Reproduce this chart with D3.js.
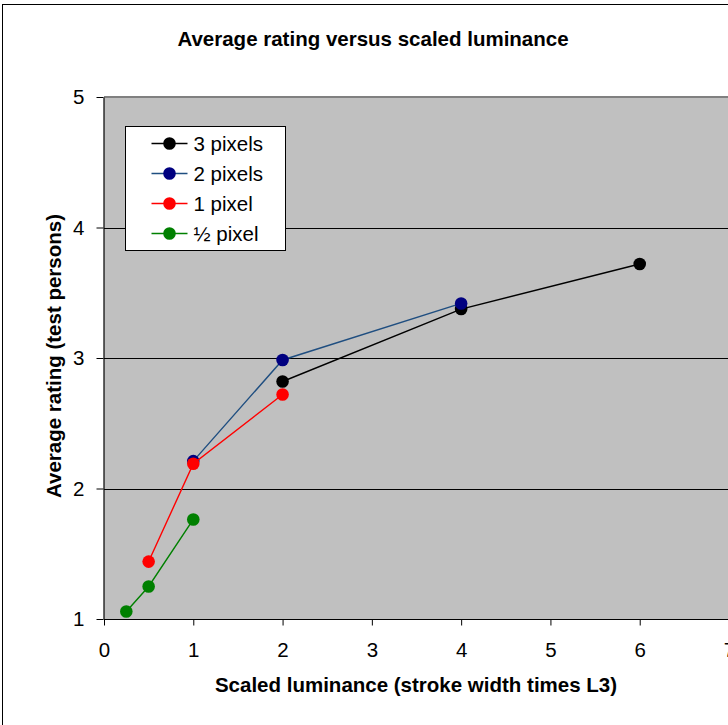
<!DOCTYPE html>
<html>
<head>
<meta charset="utf-8">
<script src="https://cdn.jsdelivr.net/npm/d3@7"></script>
<style>
  html, body { margin: 0; padding: 0; background: #fff; }
  svg { display: block; font-family: Arial, "Liberation Sans", sans-serif; }
</style>
</head>
<body>
<svg id="chart" width="728" height="725"></svg>
<script>
// Average rating per stroke width, against scaled luminance
const seriesNames = ["3 pixels", "2 pixels", "1 pixel", "½ pixel"];
const lineColors = ["#000000", "#1f4e80", "#ff0000", "#008000"];
const markerColors = ["#000000", "#000080", "#ff0000", "#008000"];

const luminance3px = [2, 4, 6];
const rating3px = [2.82, 3.375, 3.72];
const luminance2px = [1, 2, 4];
const rating2px = [2.21, 2.985, 3.418];
const luminance1px = [0.5, 1, 2];
const rating1px = [1.44, 2.19, 2.72];
const luminanceHalfPx = [0.25, 0.5, 1];
const ratingHalfPx = [1.058, 1.249, 1.763];

const xTicks = [0, 1, 2, 3, 4, 5, 6, 7];
const yTicks = [1, 2, 3, 4, 5];

const series = [
  { x: luminance3px, y: rating3px },
  { x: luminance2px, y: rating2px },
  { x: luminance1px, y: rating1px },
  { x: luminanceHalfPx, y: ratingHalfPx }
].map((s, i) => ({
  name: seriesNames[i],
  line: lineColors[i],
  marker: markerColors[i],
  points: s.x.map((v, j) => ({ x: v, y: s.y[j] }))
}));

const FONT = 20.5;
const svg = d3.select("#chart");

// Outer chart frame (runs off the right and bottom edges)
svg.append("rect")
  .attr("x", 2.5).attr("y", 4.5)
  .attr("width", 760).attr("height", 760)
  .attr("fill", "#fff").attr("stroke", "#000").attr("stroke-width", 1);

const plot = { left: 104, top: 97, right: 729, bottom: 619 };

const x = d3.scaleLinear().domain([0, 7]).range([plot.left, plot.right]);
const y = d3.scaleLinear().domain([1, 5]).range([plot.bottom, plot.top]);

// Plot area background
svg.append("rect")
  .attr("x", plot.left).attr("y", plot.top)
  .attr("width", 800).attr("height", plot.bottom - plot.top)
  .attr("fill", "#c0c0c0");

// Horizontal gridlines
svg.append("g")
  .selectAll("line")
  .data(yTicks.filter(d => d > 1 && d < 5))
  .join("line")
  .attr("x1", plot.left).attr("x2", 740)
  .attr("y1", d => Math.round(y(d)) + 0.5).attr("y2", d => Math.round(y(d)) + 0.5)
  .attr("stroke", "#000").attr("stroke-width", 1);

// Plot area top border
svg.append("line")
  .attr("x1", plot.left).attr("x2", 740)
  .attr("y1", plot.top).attr("y2", plot.top)
  .attr("stroke", "#808080").attr("stroke-width", 2);

// Axes
const fmt = d3.format("d");
const xAxis = d3.axisBottom(x).tickValues(xTicks).tickFormat(fmt)
  .tickSize(6).tickPadding(17).tickSizeOuter(0);
const yAxis = d3.axisLeft(y).tickValues(yTicks).tickFormat(fmt)
  .tickSize(7).tickPadding(12).tickSizeOuter(0);

const gx = svg.append("g")
  .attr("transform", `translate(0,${plot.bottom + 0.5})`)
  .call(xAxis);
const gy = svg.append("g")
  .attr("transform", `translate(${plot.left - 0.5},0)`)
  .call(yAxis);

[gx, gy].forEach(g => {
  g.select(".domain").attr("stroke", "#000").attr("stroke-width", 1.2);
  g.selectAll(".tick line").attr("stroke", "#000");
  g.selectAll(".tick text")
    .attr("font-family", "Arial, 'Liberation Sans', sans-serif")
    .attr("font-size", FONT).attr("fill", "#000");
});
gx.select(".domain").attr("d", `M${plot.left},0H740`);

// Series lines and markers (later series drawn on top)
const lineGen = d3.line().x(d => x(d.x)).y(d => y(d.y));
const gSeries = svg.append("g")
  .selectAll("g")
  .data(series)
  .join("g");

gSeries.append("path")
  .attr("d", d => lineGen(d.points))
  .attr("fill", "none")
  .attr("stroke", d => d.line)
  .attr("stroke-width", 1.4);

gSeries.selectAll("circle")
  .data(d => d.points.map(p => ({ ...p, color: d.marker })))
  .join("circle")
  .attr("cx", d => x(d.x)).attr("cy", d => y(d.y))
  .attr("r", 6.3)
  .attr("fill", d => d.color);

// Title
svg.append("text")
  .attr("x", 373).attr("y", 46)
  .attr("text-anchor", "middle")
  .attr("font-size", FONT).attr("font-weight", "bold")
  .text("Average rating versus scaled luminance");

// Axis titles
svg.append("text")
  .attr("x", 416).attr("y", 692)
  .attr("text-anchor", "middle")
  .attr("font-size", FONT).attr("font-weight", "bold")
  .text("Scaled luminance (stroke width times L3)");

svg.append("text")
  .attr("transform", "translate(60.5,356) rotate(-90)")
  .attr("text-anchor", "middle")
  .attr("font-size", FONT).attr("font-weight", "bold")
  .text("Average rating (test persons)");

// Legend
const legend = svg.append("g").attr("transform", "translate(125.5,126.5)");
legend.append("rect")
  .attr("width", 160).attr("height", 124)
  .attr("fill", "#fff").attr("stroke", "#000").attr("stroke-width", 1);

const rows = legend.selectAll("g.row")
  .data(series)
  .join("g")
  .attr("class", "row")
  .attr("transform", (d, i) => `translate(0,${17 + i * 30})`);

rows.append("line")
  .attr("x1", 26).attr("x2", 62)
  .attr("stroke", d => d.line).attr("stroke-width", 1.4);
rows.append("circle")
  .attr("cx", 44).attr("r", 6.3)
  .attr("fill", d => d.marker);
rows.append("text")
  .attr("x", 68).attr("dy", "0.35em")
  .attr("font-size", FONT)
  .text(d => d.name);
</script>
</body>
</html>
